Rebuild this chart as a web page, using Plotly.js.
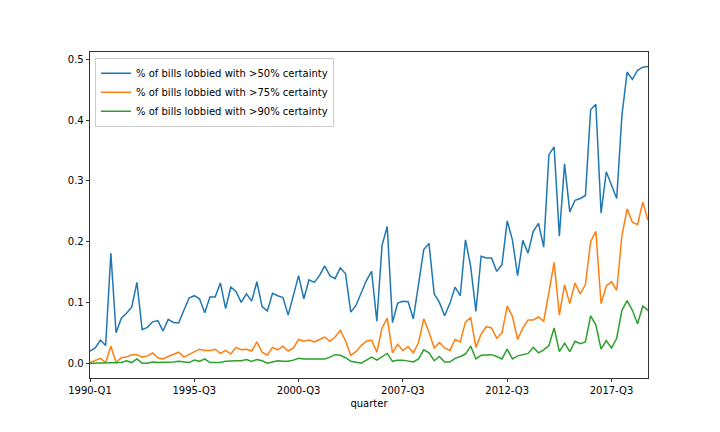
<!DOCTYPE html>
<html>
<head>
<meta charset="utf-8">
<script src="https://cdn.plot.ly/plotly-3.0.1.min.js"></script>
<style>html,body{margin:0;padding:0;background:#fff;}#chart{width:720px;height:432px;}</style>
</head>
<body>
<div id="chart"></div>
<script>
const quarters = [
"1990-Q1","1990-Q2","1991-Q1","1991-Q2","1991-Q3","1991-Q4","1992-Q1","1992-Q2","1992-Q3","1992-Q4",
"1993-Q1","1993-Q2","1993-Q3","1993-Q4","1994-Q1","1994-Q2","1994-Q3","1994-Q4","1995-Q1","1995-Q2",
"1995-Q3","1995-Q4","1996-Q1","1996-Q2","1996-Q3","1996-Q4","1997-Q1","1997-Q2","1997-Q3","1997-Q4",
"1998-Q1","1998-Q2","1998-Q3","1998-Q4","1999-Q1","1999-Q2","1999-Q3","1999-Q4","2000-Q1","2000-Q2",
"2000-Q3","2000-Q4","2001-Q1","2001-Q2","2001-Q3","2001-Q4","2002-Q1","2002-Q2","2002-Q3","2002-Q4",
"2005-Q1","2005-Q2","2005-Q3","2005-Q4","2006-Q1","2006-Q2","2006-Q3","2006-Q4","2007-Q1","2007-Q2",
"2007-Q3","2007-Q4","2008-Q1","2008-Q2","2008-Q3","2008-Q4","2009-Q1","2009-Q2","2009-Q3","2009-Q4",
"2010-Q1","2010-Q2","2010-Q3","2010-Q4","2011-Q1","2011-Q2","2011-Q3","2011-Q4","2012-Q1","2012-Q2",
"2012-Q3","2012-Q4","2013-Q1","2013-Q2","2013-Q3","2013-Q4","2014-Q1","2014-Q2","2014-Q3","2014-Q4",
"2015-Q1","2015-Q2","2015-Q3","2015-Q4","2016-Q1","2016-Q2","2016-Q3","2016-Q4","2017-Q1","2017-Q2",
"2017-Q3","2017-Q4","2018-Q1","2018-Q2","2018-Q3","2018-Q4","2019-Q1","2019-Q2"
];

const pct50 = [
0.020,0.025,0.038,0.029,0.181,0.050,0.074,0.082,0.092,0.133,
0.055,0.059,0.068,0.070,0.053,0.072,0.067,0.066,0.087,0.107,
0.111,0.106,0.083,0.109,0.109,0.132,0.090,0.125,0.118,0.100,
0.114,0.102,0.134,0.093,0.086,0.115,0.111,0.108,0.079,0.113,
0.144,0.106,0.137,0.133,0.144,0.160,0.144,0.139,0.157,0.147,
0.084,0.095,0.117,0.136,0.151,0.069,0.194,0.225,0.067,0.099,
0.102,0.101,0.073,0.129,0.187,0.197,0.114,0.100,0.078,0.098,
0.125,0.111,0.203,0.159,0.085,0.176,0.173,0.173,0.151,0.162,
0.234,0.203,0.144,0.202,0.181,0.217,0.230,0.191,0.343,0.356,
0.209,0.328,0.249,0.268,0.271,0.276,0.417,0.426,0.247,0.315,
0.293,0.271,0.408,0.479,0.467,0.482,0.487,0.488
];

const pct75 = [
0.001,0.004,0.008,0.001,0.028,0.001,0.009,0.010,0.014,0.014,
0.010,0.012,0.017,0.009,0.007,0.011,0.015,0.018,0.010,0.014,
0.018,0.023,0.021,0.021,0.023,0.016,0.021,0.015,0.026,0.022,
0.023,0.020,0.035,0.018,0.013,0.026,0.022,0.028,0.020,0.025,
0.039,0.036,0.038,0.035,0.039,0.043,0.036,0.043,0.054,0.037,
0.013,0.019,0.029,0.036,0.038,0.018,0.058,0.074,0.017,0.031,
0.021,0.027,0.017,0.034,0.073,0.051,0.025,0.034,0.025,0.021,
0.039,0.035,0.068,0.075,0.026,0.048,0.060,0.058,0.041,0.050,
0.094,0.077,0.039,0.058,0.071,0.071,0.076,0.069,0.117,0.166,
0.079,0.129,0.098,0.132,0.114,0.129,0.200,0.217,0.098,0.127,
0.134,0.120,0.210,0.254,0.232,0.228,0.265,0.235
];

const pct90 = [
0.000,0.000,0.000,0.000,0.000,0.000,0.001,0.004,0.001,0.007,
0.000,0.000,0.002,0.001,0.001,0.001,0.002,0.003,0.002,0.001,
0.005,0.003,0.007,0.001,0.001,0.001,0.003,0.004,0.004,0.004,
0.006,0.003,0.006,0.004,0.000,0.002,0.004,0.003,0.003,0.005,
0.008,0.007,0.007,0.007,0.007,0.007,0.010,0.014,0.013,0.009,
0.003,0.002,0.000,0.005,0.010,0.005,0.011,0.016,0.003,0.005,
0.005,0.003,0.002,0.007,0.022,0.017,0.004,0.011,0.002,0.002,
0.008,0.011,0.015,0.028,0.007,0.013,0.014,0.014,0.011,0.007,
0.023,0.007,0.012,0.014,0.016,0.026,0.017,0.022,0.029,0.058,
0.019,0.033,0.019,0.036,0.032,0.035,0.078,0.063,0.023,0.037,
0.025,0.041,0.087,0.103,0.087,0.065,0.094,0.087
];

const seriesNames = [
"% of bills lobbied with >50% certainty",
"% of bills lobbied with >75% certainty",
"% of bills lobbied with >90% certainty"
];
const tickQuarters = ["1990-Q1","1995-Q3","2000-Q3","2007-Q3","2012-Q3","2017-Q3"];
const colors = ["#1f77b4","#ff7f0e","#2ca02c"];

const allSeries = [pct50, pct75, pct90];
const traces = allSeries.map((vals, k) => ({
  x: quarters, y: vals, type: "scatter", mode: "lines",
  name: seriesNames[k],
  line: {color: colors[k], width: 1.5}
}));

const font = {family: "DejaVu Sans, sans-serif", size: 10, color: "#000"};
const layout = {
  width: 720, height: 432,
  margin: {l: 90, r: 72, t: 52, b: 54, pad: 0},
  paper_bgcolor: "#fff", plot_bgcolor: "#fff",
  font: font,
  showlegend: true,
  legend: {
    x: 0.009, y: 0.982, xanchor: "left", yanchor: "top",
    bgcolor: "rgba(255,255,255,0.8)", bordercolor: "#cccccc", borderwidth: 1,
    font: font, tracegroupgap: 0
  },
  xaxis: {
    type: "category",
    range: [0, quarters.length - 1],
    tickmode: "array", tickvals: tickQuarters, ticktext: tickQuarters,
    ticks: "outside", ticklen: 3.5, tickwidth: 0.8, tickcolor: "#000",
    showline: true, linecolor: "#000", linewidth: 0.8, mirror: true,
    showgrid: false, zeroline: false,
    tickfont: font,
    title: {text: "quarter", font: font, standoff: 4}
  },
  yaxis: {
    range: [-0.0244, 0.512],
    tickmode: "array", tickvals: [0, 0.1, 0.2, 0.3, 0.4, 0.5],
    tickformat: ".1f",
    ticks: "outside", ticklen: 3.5, tickwidth: 0.8, tickcolor: "#000",
    showline: true, linecolor: "#000", linewidth: 0.8, mirror: true,
    showgrid: false, zeroline: false,
    tickfont: font
  }
};

Plotly.newPlot("chart", traces, layout, {displayModeBar: false, staticPlot: true});
</script>
</body>
</html>
